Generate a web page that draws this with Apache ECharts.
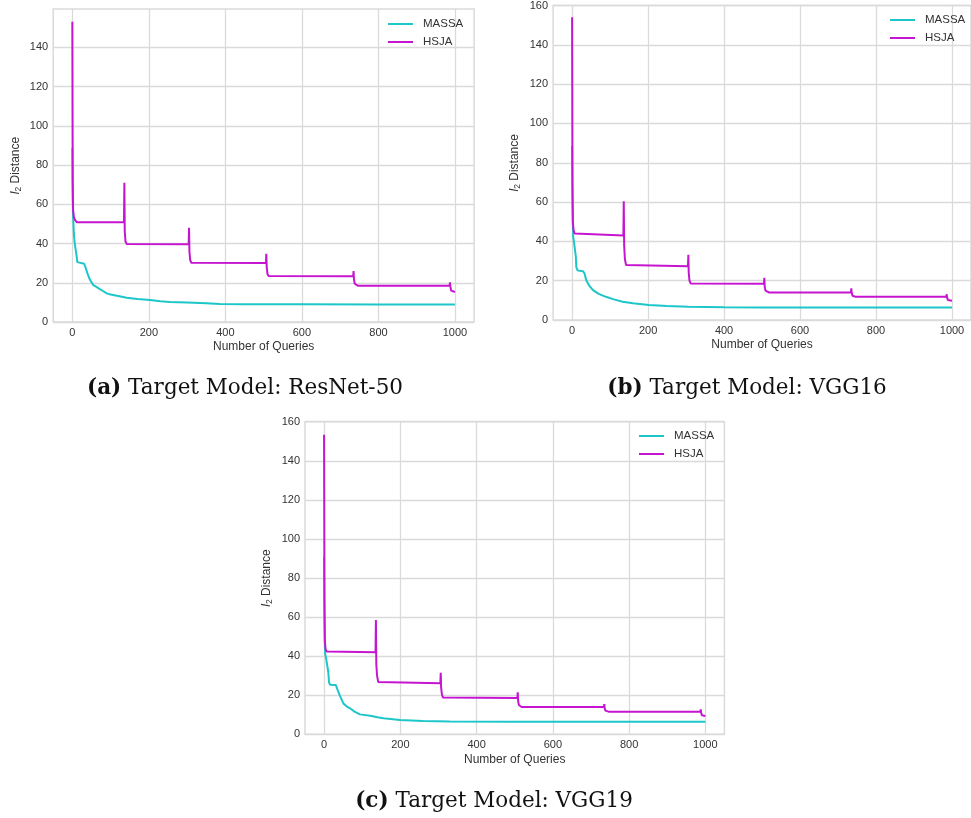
<!DOCTYPE html>
<html>
<head>
<meta charset="utf-8">
<script src="https://cdn.jsdelivr.net/npm/echarts@6/dist/echarts.min.js"></script>
<style>
  html, body { margin: 0; padding: 0; background: #ffffff; }
  #chart { width: 971px; height: 818px; }
</style>
</head>
<body>
<div id="chart"></div>
<script>
// Query budget vs. l2 distance of the adversarial example, per target model.
const seriesNames = ['MASSA', 'HSJA'];
const captions = [
  ['(a)', 'Target Model: ResNet-50'],
  ['(b)', 'Target Model: VGG16'],
  ['(c)', 'Target Model: VGG19']
];
const xTicks = [0, 200, 400, 600, 800, 1000];
const yTicksA = [0, 20, 40, 60, 80, 100, 120, 140];
const yTicksBC = [0, 20, 40, 60, 80, 100, 120, 140, 160];

// ResNet-50: [queries, l2 distance]
const massaResNet50 = [
  [0, 88.5], [1, 62], [2, 54], [4, 45], [6, 40.4], [10, 40.2], [11, 34], [13, 30.5],
  [16, 29.9], [31, 29.7], [35, 27.5], [40, 24.5], [46, 21.5], [55, 18.8], [64, 17.8],
  [72, 16.7], [80, 15.8], [90, 14.6], [100, 14], [120, 13.3], [142, 12.4], [170, 11.7],
  [203, 11.2], [230, 10.6], [255, 10.2], [300, 10], [350, 9.6], [386, 9.2], [450, 9.1],
  [600, 9], [800, 8.9], [1000, 8.9]
];
const hsjaResNet50 = [
  [0, 153], [1, 72], [2, 57], [4, 53.5], [7, 52], [12, 50.8], [135, 50.8],
  [136, 71], [137, 46], [139, 41], [142, 39.8], [146, 39.6], [304, 39.6],
  [305, 48], [306, 36], [308, 31.5], [311, 30.2], [315, 30.1], [506, 30.1],
  [507, 34.8], [508, 28], [510, 24.5], [513, 23.4], [517, 23.3], [734, 23.3],
  [735, 26], [736, 22], [738, 19.5], [742, 18.6], [746, 18.5], [986, 18.5],
  [987, 20.2], [988, 18], [990, 16], [993, 15.4], [1000, 15.3]
];

// VGG16
const massaVGG16 = [
  [0, 88.5], [1, 60], [2, 48], [3, 42], [5, 39.6], [9, 39.4], [10, 32], [11, 27],
  [14, 25.3], [20, 25], [29, 24.8], [33, 23.5], [37, 20.3], [45, 17.5], [55, 15.2],
  [70, 13.3], [89, 11.8], [110, 10.5], [133, 9.3], [160, 8.5], [202, 7.6], [250, 7.1],
  [306, 6.8], [400, 6.5], [500, 6.4], [700, 6.3], [1000, 6.3]
];
const hsjaVGG16 = [
  [0, 154], [1, 70], [2, 50], [4, 45.5], [7, 44], [11, 43], [135, 43],
  [136, 60.4], [137, 38], [139, 31], [142, 28], [147, 27.4], [305, 27.4],
  [306, 33.2], [307, 24], [309, 20], [312, 18.6], [316, 18.4], [505, 18.4],
  [506, 21.5], [507, 17], [509, 15], [513, 14.1], [518, 14], [734, 14],
  [735, 16.1], [736, 13.8], [738, 12.3], [742, 11.9], [746, 11.8], [985, 11.8],
  [986, 13.1], [987, 11.5], [989, 10.2], [993, 9.8], [1000, 9.8]
];

// VGG19
const massaVGG19 = [
  [0, 90.9], [1, 60], [2, 46], [3, 41], [5, 39.2], [10, 38.9], [11, 32], [13, 26.5],
  [16, 25.4], [31, 25.2], [35, 23], [42, 19.5], [51, 15.7], [60, 14.2], [68, 13.3],
  [80, 11.6], [94, 10.2], [121, 9.5], [140, 8.7], [156, 8.2], [199, 7.3], [260, 6.8],
  [330, 6.5], [500, 6.4], [1000, 6.4]
];
const hsjaVGG19 = [
  [0, 153.3], [1, 70], [2, 48], [4, 43.5], [7, 42.4], [11, 42], [135, 42],
  [136, 58.5], [137, 36], [139, 30], [142, 26.8], [147, 26.1], [305, 26.1],
  [306, 31.5], [307, 24], [309, 20.5], [312, 18.8], [316, 18.6], [507, 18.6],
  [508, 21.5], [509, 17], [511, 15], [514, 14.1], [518, 14], [734, 14],
  [735, 15.5], [736, 13.5], [738, 12.1], [742, 11.7], [746, 11.6], [987, 11.6],
  [988, 12.8], [989, 11], [991, 9.8], [994, 9.4], [1000, 9.4]
];

const CYAN = '#1cc6c9';
const MAGENTA = '#c515d0';
const GRID_COLOR = '#dadada';
const TEXT_COLOR = '#333333';
const SANS = '"Liberation Sans", Arial, sans-serif';
const SERIF = '"DejaVu Serif", serif';

const panels = [
  { grid: { left: 53.2, top: 9, width: 420.9, height: 313 }, yMax: 159.5, yTicks: yTicksA,
    massa: massaResNet50, hsja: hsjaResNet50, legend: { left: 388, top: 17 }, nameGap: 30 },
  { grid: { left: 553.1, top: 5, width: 423.1, height: 315 }, yMax: 160, yTicks: yTicksBC,
    massa: massaVGG16, hsja: hsjaVGG16, legend: { left: 890, top: 13 }, nameGap: 31 },
  { grid: { left: 305, top: 421.7, width: 419.4, height: 312.6 }, yMax: 160, yTicks: yTicksBC,
    massa: massaVGG19, hsja: hsjaVGG19, legend: { left: 639, top: 429 }, nameGap: 31 }
];

const captionPos = [[245, 388], [747, 388], [494, 801]];

const plain = v => String(v);

const option = {
  animation: false,
  backgroundColor: '#ffffff',
  grid: panels.map(p => Object.assign({
    show: true, borderColor: GRID_COLOR, borderWidth: 1.5, backgroundColor: 'transparent'
  }, p.grid)),
  xAxis: panels.map((p, i) => ({
    type: 'value', gridIndex: i, min: -50, max: 1050,
    name: 'Number of Queries', nameLocation: 'middle', nameGap: 19,
    nameTextStyle: { fontFamily: SANS, fontSize: 12, color: TEXT_COLOR },
    axisLine: { show: false },
    axisTick: { show: false, customValues: xTicks },
    axisLabel: { customValues: xTicks, formatter: plain, margin: 5, fontFamily: SANS, fontSize: 11, color: TEXT_COLOR },
    splitLine: { show: true, lineStyle: { color: GRID_COLOR, width: 1.3 } }
  })),
  yAxis: panels.map((p, i) => ({
    type: 'value', gridIndex: i, min: 0, max: p.yMax,
    name: '{it|l}{sub|2} Distance', nameLocation: 'middle', nameGap: p.nameGap, nameRotate: 90,
    nameTextStyle: {
      fontFamily: SANS, fontSize: 12, color: TEXT_COLOR,
      rich: {
        it: { fontFamily: SANS, fontSize: 12, fontStyle: 'italic', color: TEXT_COLOR },
        sub: { fontFamily: SANS, fontSize: 8.5, color: TEXT_COLOR, verticalAlign: 'top', padding: [6, 0, 0, 0] }
      }
    },
    axisLine: { show: false },
    axisTick: { show: false, customValues: p.yTicks },
    axisLabel: { customValues: p.yTicks, formatter: plain, margin: 5, fontFamily: SANS, fontSize: 11, color: TEXT_COLOR },
    splitLine: { show: true, lineStyle: { color: GRID_COLOR, width: 1.3 } }
  })),
  legend: panels.map(p => ({
    data: seriesNames, orient: 'vertical', left: p.legend.left, top: p.legend.top,
    padding: 0, icon: 'rect', itemWidth: 25, itemHeight: 2, itemGap: 4,
    textStyle: { fontFamily: SANS, fontSize: 11.5, color: TEXT_COLOR, padding: [0, 0, 0, 5], lineHeight: 14 }
  })),
  series: panels.flatMap((p, i) => [
    { name: seriesNames[0], type: 'line', xAxisIndex: i, yAxisIndex: i, data: p.massa,
      showSymbol: false, symbol: 'none', color: CYAN, lineStyle: { color: CYAN, width: 2 } },
    { name: seriesNames[1], type: 'line', xAxisIndex: i, yAxisIndex: i, data: p.hsja,
      showSymbol: false, symbol: 'none', color: MAGENTA, lineStyle: { color: MAGENTA, width: 2 } }
  ]),
  graphic: captions.map((c, i) => ({
    type: 'text', x: captionPos[i][0], y: captionPos[i][1],
    style: {
      text: '{b|' + c[0] + '} ' + c[1],
      fontFamily: SERIF, fontSize: 21.5, fill: '#111111',
      align: 'center', verticalAlign: 'middle',
      rich: { b: { fontFamily: SERIF, fontSize: 21.5, fontWeight: 'bold', fill: '#111111' } }
    }
  }))
};

const chart = echarts.init(document.getElementById('chart'), null, { renderer: 'canvas' });
chart.setOption(option);
</script>
</body>
</html>
